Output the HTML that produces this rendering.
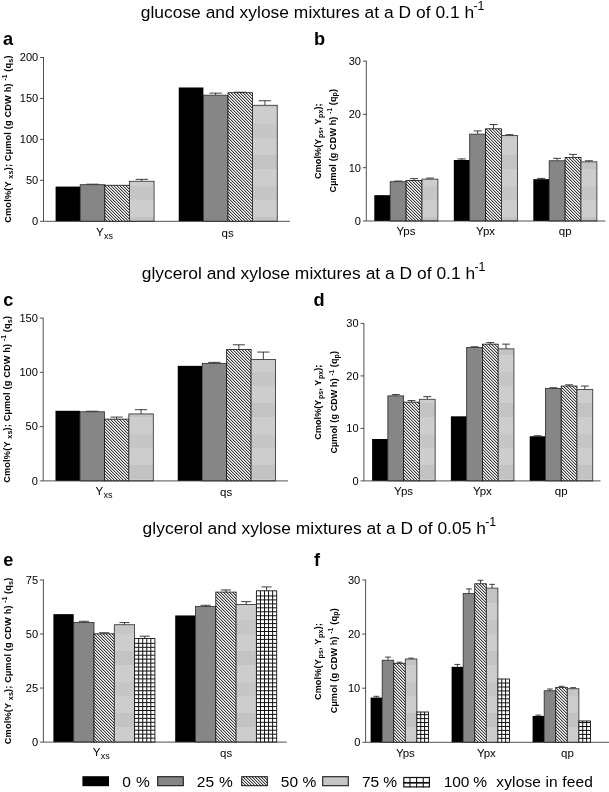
<!DOCTYPE html>
<html><head><meta charset="utf-8"><title>figure</title>
<style>html,body{margin:0;padding:0;background:#fff}svg{display:block;will-change:transform}text{font-family:"Liberation Sans",sans-serif;fill:#000}</style>
</head><body>
<svg width="609" height="792" viewBox="0 0 609 792">
<defs>
<pattern id="hatch" patternUnits="userSpaceOnUse" width="3" height="3" shape-rendering="crispEdges"><rect width="3" height="3" fill="#fff"/><rect x="0" y="0" width="1" height="1" fill="#3c3c3c"/><rect x="1" y="0" width="1" height="1" fill="#b8b8b8"/><rect x="1" y="1" width="1" height="1" fill="#3c3c3c"/><rect x="2" y="1" width="1" height="1" fill="#b8b8b8"/><rect x="2" y="2" width="1" height="1" fill="#3c3c3c"/><rect x="0" y="2" width="1" height="1" fill="#b8b8b8"/></pattern>
<pattern id="lt" patternUnits="userSpaceOnUse" width="40" height="62"><rect width="40" height="62" fill="#cdcdcd"/><rect y="0" width="40" height="14" fill="#c6c6c6"/><rect y="31" width="40" height="14" fill="#c3c3c3"/></pattern>
</defs>
<rect width="609" height="792" fill="#fff"/>
<text x="140.70" y="18.20" font-size="17.4" textLength="333.50" lengthAdjust="spacing">glucose and xylose mixtures at a D of 0.1 h</text>
<text x="473.60" y="9.90" font-size="12.4" textLength="10.9" lengthAdjust="spacing">-1</text>
<text x="141.70" y="279.00" font-size="17.4" textLength="333.50" lengthAdjust="spacing">glycerol and xylose mixtures at a D of 0.1 h</text>
<text x="474.60" y="270.70" font-size="12.4" textLength="10.9" lengthAdjust="spacing">-1</text>
<text x="142.60" y="534.40" font-size="17.4" textLength="343.30" lengthAdjust="spacing">glycerol and xylose mixtures at a D of 0.05 h</text>
<text x="485.30" y="526.10" font-size="12.4" textLength="10.9" lengthAdjust="spacing">-1</text>
<text x="3.0" y="44.7" font-size="18.2" font-weight="bold">a</text>
<text x="314.0" y="45.4" font-size="18.2" font-weight="bold">b</text>
<text x="3.2" y="306.1" font-size="18.2" font-weight="bold">c</text>
<text x="313.6" y="306.4" font-size="18.2" font-weight="bold">d</text>
<text x="3.2" y="565.8" font-size="18.2" font-weight="bold">e</text>
<text x="314.0" y="565.8" font-size="18.2" font-weight="bold">f</text>
<rect x="55.60" y="186.57" width="24.62" height="34.73" fill="#000"/>
<path d="M92.53,184.69V184.20M86.38,184.20H98.69" stroke="#1c1c1c" stroke-width="0.85" fill="none"/>
<rect x="80.22" y="184.69" width="24.62" height="36.61" fill="#868686" stroke="#2a2a2a" stroke-width="0.8"/>
<rect x="104.84" y="185.26" width="24.62" height="36.04" fill="url(#hatch)" stroke="#111" stroke-width="0.8"/>
<path d="M141.77,181.25V179.37M135.62,179.37H147.93" stroke="#1c1c1c" stroke-width="0.85" fill="none"/>
<rect x="129.46" y="181.25" width="24.62" height="40.05" fill="url(#lt)" stroke="#2a2a2a" stroke-width="0.8"/>
<rect x="178.75" y="87.48" width="24.62" height="133.82" fill="#000"/>
<path d="M215.68,95.17V93.13M209.53,93.13H221.84" stroke="#1c1c1c" stroke-width="0.85" fill="none"/>
<rect x="203.37" y="95.17" width="24.62" height="126.13" fill="#868686" stroke="#2a2a2a" stroke-width="0.8"/>
<path d="M240.30,92.72V92.23M234.15,92.23H246.46" stroke="#1c1c1c" stroke-width="0.85" fill="none"/>
<rect x="227.99" y="92.72" width="24.62" height="128.58" fill="url(#hatch)" stroke="#111" stroke-width="0.8"/>
<path d="M264.92,105.25V100.74M258.77,100.74H271.07" stroke="#1c1c1c" stroke-width="0.85" fill="none"/>
<rect x="252.61" y="105.25" width="24.62" height="116.05" fill="url(#lt)" stroke="#2a2a2a" stroke-width="0.8"/>
<path d="M43.50,57.10V221.30H290.00" stroke="#333" stroke-width="0.85" fill="none"/>
<path d="M40.10,221.30H43.50" stroke="#333" stroke-width="0.85" fill="none"/>
<text x="38.20" y="225.10" font-size="11.6" text-anchor="end" textLength="6.16" lengthAdjust="spacingAndGlyphs">0</text>
<path d="M40.10,180.35H43.50" stroke="#333" stroke-width="0.85" fill="none"/>
<text x="38.20" y="184.15" font-size="11.6" text-anchor="end" textLength="12.32" lengthAdjust="spacingAndGlyphs">50</text>
<path d="M40.10,139.40H43.50" stroke="#333" stroke-width="0.85" fill="none"/>
<text x="38.20" y="143.20" font-size="11.6" text-anchor="end" textLength="18.48" lengthAdjust="spacingAndGlyphs">100</text>
<path d="M40.10,98.45H43.50" stroke="#333" stroke-width="0.85" fill="none"/>
<text x="38.20" y="102.25" font-size="11.6" text-anchor="end" textLength="18.48" lengthAdjust="spacingAndGlyphs">150</text>
<path d="M40.10,57.50H43.50" stroke="#333" stroke-width="0.85" fill="none"/>
<text x="38.20" y="61.30" font-size="11.6" text-anchor="end" textLength="18.48" lengthAdjust="spacingAndGlyphs">200</text>
<text x="104.50" y="236.60" font-size="11.5" text-anchor="middle"><tspan dy="-0.8">Y</tspan><tspan font-size="9" dy="3.2" dx="0.3">xs</tspan></text>
<text x="227.60" y="236.60" font-size="11.5" text-anchor="middle">qs</text>
<rect x="55.50" y="410.79" width="24.45" height="70.11" fill="#000"/>
<path d="M92.17,411.76V411.22M86.06,411.22H98.29" stroke="#1c1c1c" stroke-width="0.85" fill="none"/>
<rect x="79.95" y="411.76" width="24.45" height="69.14" fill="#868686" stroke="#2a2a2a" stroke-width="0.8"/>
<path d="M116.62,419.14V417.08M110.51,417.08H122.74" stroke="#1c1c1c" stroke-width="0.85" fill="none"/>
<rect x="104.40" y="419.14" width="24.45" height="61.76" fill="url(#hatch)" stroke="#111" stroke-width="0.8"/>
<path d="M141.07,413.93V409.70M134.96,409.70H147.19" stroke="#1c1c1c" stroke-width="0.85" fill="none"/>
<rect x="128.85" y="413.93" width="24.45" height="66.97" fill="url(#lt)" stroke="#2a2a2a" stroke-width="0.8"/>
<rect x="177.75" y="365.85" width="24.45" height="115.05" fill="#000"/>
<path d="M214.42,363.36V362.38M208.31,362.38H220.54" stroke="#1c1c1c" stroke-width="0.85" fill="none"/>
<rect x="202.20" y="363.36" width="24.45" height="117.54" fill="#868686" stroke="#2a2a2a" stroke-width="0.8"/>
<path d="M238.88,349.57V344.80M232.76,344.80H244.99" stroke="#1c1c1c" stroke-width="0.85" fill="none"/>
<rect x="226.65" y="349.57" width="24.45" height="131.33" fill="url(#hatch)" stroke="#111" stroke-width="0.8"/>
<path d="M263.32,359.45V352.07M257.21,352.07H269.44" stroke="#1c1c1c" stroke-width="0.85" fill="none"/>
<rect x="251.10" y="359.45" width="24.45" height="121.45" fill="url(#lt)" stroke="#2a2a2a" stroke-width="0.8"/>
<path d="M43.20,317.70V480.90H287.90" stroke="#333" stroke-width="0.85" fill="none"/>
<path d="M39.80,480.90H43.20" stroke="#333" stroke-width="0.85" fill="none"/>
<text x="37.90" y="484.70" font-size="11.6" text-anchor="end" textLength="6.16" lengthAdjust="spacingAndGlyphs">0</text>
<path d="M39.80,426.63H43.20" stroke="#333" stroke-width="0.85" fill="none"/>
<text x="37.90" y="430.43" font-size="11.6" text-anchor="end" textLength="12.32" lengthAdjust="spacingAndGlyphs">50</text>
<path d="M39.80,372.37H43.20" stroke="#333" stroke-width="0.85" fill="none"/>
<text x="37.90" y="376.17" font-size="11.6" text-anchor="end" textLength="18.48" lengthAdjust="spacingAndGlyphs">100</text>
<path d="M39.80,318.10H43.20" stroke="#333" stroke-width="0.85" fill="none"/>
<text x="37.90" y="321.90" font-size="11.6" text-anchor="end" textLength="18.48" lengthAdjust="spacingAndGlyphs">150</text>
<text x="104.00" y="495.60" font-size="11.5" text-anchor="middle"><tspan dy="-0.8">Y</tspan><tspan font-size="9" dy="3.2" dx="0.3">xs</tspan></text>
<text x="226.20" y="495.60" font-size="11.5" text-anchor="middle">qs</text>
<rect x="53.40" y="614.15" width="20.30" height="127.95" fill="#000"/>
<path d="M83.85,622.58V621.28M78.78,621.28H88.93" stroke="#1c1c1c" stroke-width="0.85" fill="none"/>
<rect x="73.70" y="622.58" width="20.30" height="119.52" fill="#868686" stroke="#2a2a2a" stroke-width="0.8"/>
<path d="M104.15,633.82V632.74M99.08,632.74H109.23" stroke="#1c1c1c" stroke-width="0.85" fill="none"/>
<rect x="94.00" y="633.82" width="20.30" height="108.28" fill="url(#hatch)" stroke="#111" stroke-width="0.8"/>
<path d="M124.45,624.74V622.58M119.38,622.58H129.53" stroke="#1c1c1c" stroke-width="0.85" fill="none"/>
<rect x="114.30" y="624.74" width="20.30" height="117.36" fill="url(#lt)" stroke="#2a2a2a" stroke-width="0.8"/>
<path d="M144.75,638.57V636.19M139.68,636.19H149.82" stroke="#1c1c1c" stroke-width="0.85" fill="none"/>
<rect x="134.60" y="638.57" width="20.30" height="103.53" fill="#fff" stroke="#111" stroke-width="0.9"/>
<path d="M138.66,638.57V742.10M142.72,638.57V742.10M146.78,638.57V742.10M150.84,638.57V742.10M134.60,738.15H154.90M134.60,734.20H154.90M134.60,730.25H154.90M134.60,726.30H154.90M134.60,722.35H154.90M134.60,718.40H154.90M134.60,714.45H154.90M134.60,710.50H154.90M134.60,706.55H154.90M134.60,702.60H154.90M134.60,698.65H154.90M134.60,694.70H154.90M134.60,690.75H154.90M134.60,686.80H154.90M134.60,682.85H154.90M134.60,678.90H154.90M134.60,674.95H154.90M134.60,671.00H154.90M134.60,667.05H154.90M134.60,663.10H154.90M134.60,659.15H154.90M134.60,655.20H154.90M134.60,651.25H154.90M134.60,647.30H154.90M134.60,643.35H154.90" stroke="#111" stroke-width="1.0" fill="none"/>
<rect x="175.20" y="615.45" width="20.30" height="126.65" fill="#000"/>
<path d="M205.65,606.58V605.29M200.58,605.29H210.72" stroke="#1c1c1c" stroke-width="0.85" fill="none"/>
<rect x="195.50" y="606.58" width="20.30" height="135.52" fill="#868686" stroke="#2a2a2a" stroke-width="0.8"/>
<path d="M225.95,592.10V589.94M220.88,589.94H231.02" stroke="#1c1c1c" stroke-width="0.85" fill="none"/>
<rect x="215.80" y="592.10" width="20.30" height="150.00" fill="url(#hatch)" stroke="#111" stroke-width="0.8"/>
<path d="M246.25,604.42V601.61M241.18,601.61H251.32" stroke="#1c1c1c" stroke-width="0.85" fill="none"/>
<rect x="236.10" y="604.42" width="20.30" height="137.68" fill="url(#lt)" stroke="#2a2a2a" stroke-width="0.8"/>
<path d="M266.55,590.81V586.92M261.47,586.92H271.62" stroke="#1c1c1c" stroke-width="0.85" fill="none"/>
<rect x="256.40" y="590.81" width="20.30" height="151.29" fill="#fff" stroke="#111" stroke-width="0.9"/>
<path d="M260.46,590.81V742.10M264.52,590.81V742.10M268.58,590.81V742.10M272.64,590.81V742.10M256.40,738.15H276.70M256.40,734.20H276.70M256.40,730.25H276.70M256.40,726.30H276.70M256.40,722.35H276.70M256.40,718.40H276.70M256.40,714.45H276.70M256.40,710.50H276.70M256.40,706.55H276.70M256.40,702.60H276.70M256.40,698.65H276.70M256.40,694.70H276.70M256.40,690.75H276.70M256.40,686.80H276.70M256.40,682.85H276.70M256.40,678.90H276.70M256.40,674.95H276.70M256.40,671.00H276.70M256.40,667.05H276.70M256.40,663.10H276.70M256.40,659.15H276.70M256.40,655.20H276.70M256.40,651.25H276.70M256.40,647.30H276.70M256.40,643.35H276.70M256.40,639.40H276.70M256.40,635.45H276.70M256.40,631.50H276.70M256.40,627.55H276.70M256.40,623.60H276.70M256.40,619.65H276.70M256.40,615.70H276.70M256.40,611.75H276.70M256.40,607.80H276.70M256.40,603.85H276.70M256.40,599.90H276.70M256.40,595.95H276.70" stroke="#111" stroke-width="1.0" fill="none"/>
<path d="M43.40,579.60V742.10H286.80" stroke="#333" stroke-width="0.85" fill="none"/>
<path d="M40.00,742.10H43.40" stroke="#333" stroke-width="0.85" fill="none"/>
<text x="38.10" y="745.90" font-size="11.6" text-anchor="end" textLength="6.16" lengthAdjust="spacingAndGlyphs">0</text>
<path d="M40.00,688.07H43.40" stroke="#333" stroke-width="0.85" fill="none"/>
<text x="38.10" y="691.87" font-size="11.6" text-anchor="end" textLength="12.32" lengthAdjust="spacingAndGlyphs">25</text>
<path d="M40.00,634.03H43.40" stroke="#333" stroke-width="0.85" fill="none"/>
<text x="38.10" y="637.83" font-size="11.6" text-anchor="end" textLength="12.32" lengthAdjust="spacingAndGlyphs">50</text>
<path d="M40.00,580.00H43.40" stroke="#333" stroke-width="0.85" fill="none"/>
<text x="38.10" y="583.80" font-size="11.6" text-anchor="end" textLength="12.32" lengthAdjust="spacingAndGlyphs">75</text>
<text x="101.30" y="756.80" font-size="11.5" text-anchor="middle"><tspan dy="-0.8">Y</tspan><tspan font-size="9" dy="3.2" dx="0.3">xs</tspan></text>
<text x="226.20" y="756.80" font-size="11.5" text-anchor="middle">qs</text>
<rect x="374.30" y="195.15" width="15.90" height="25.85" fill="#000"/>
<path d="M398.15,181.72V181.03M394.17,181.03H402.12" stroke="#1c1c1c" stroke-width="0.85" fill="none"/>
<rect x="390.20" y="181.72" width="15.90" height="39.28" fill="#868686" stroke="#2a2a2a" stroke-width="0.8"/>
<path d="M414.05,180.49V178.63M410.07,178.63H418.03" stroke="#1c1c1c" stroke-width="0.85" fill="none"/>
<rect x="406.10" y="180.49" width="15.90" height="40.51" fill="url(#hatch)" stroke="#111" stroke-width="0.8"/>
<path d="M429.95,179.16V178.09M425.97,178.09H433.93" stroke="#1c1c1c" stroke-width="0.85" fill="none"/>
<rect x="422.00" y="179.16" width="15.90" height="41.84" fill="url(#lt)" stroke="#2a2a2a" stroke-width="0.8"/>
<path d="M461.75,159.97V158.91M457.77,158.91H465.73" stroke="#1c1c1c" stroke-width="0.85" fill="none"/>
<rect x="453.80" y="159.97" width="15.90" height="61.03" fill="#000"/>
<path d="M477.65,134.12V130.92M473.67,130.92H481.62" stroke="#1c1c1c" stroke-width="0.85" fill="none"/>
<rect x="469.70" y="134.12" width="15.90" height="86.88" fill="#868686" stroke="#2a2a2a" stroke-width="0.8"/>
<path d="M493.55,128.79V124.53M489.57,124.53H497.53" stroke="#1c1c1c" stroke-width="0.85" fill="none"/>
<rect x="485.60" y="128.79" width="15.90" height="92.21" fill="url(#hatch)" stroke="#111" stroke-width="0.8"/>
<path d="M509.45,135.45V134.65M505.47,134.65H513.42" stroke="#1c1c1c" stroke-width="0.85" fill="none"/>
<rect x="501.50" y="135.45" width="15.90" height="85.55" fill="url(#lt)" stroke="#2a2a2a" stroke-width="0.8"/>
<path d="M541.25,179.16V178.36M537.27,178.36H545.23" stroke="#1c1c1c" stroke-width="0.85" fill="none"/>
<rect x="533.30" y="179.16" width="15.90" height="41.84" fill="#000"/>
<path d="M557.15,160.77V158.37M553.17,158.37H561.12" stroke="#1c1c1c" stroke-width="0.85" fill="none"/>
<rect x="549.20" y="160.77" width="15.90" height="60.23" fill="#868686" stroke="#2a2a2a" stroke-width="0.8"/>
<path d="M573.05,157.57V154.38M569.07,154.38H577.02" stroke="#1c1c1c" stroke-width="0.85" fill="none"/>
<rect x="565.10" y="157.57" width="15.90" height="63.43" fill="url(#hatch)" stroke="#111" stroke-width="0.8"/>
<path d="M588.95,161.84V160.77M584.98,160.77H592.93" stroke="#1c1c1c" stroke-width="0.85" fill="none"/>
<rect x="581.00" y="161.84" width="15.90" height="59.16" fill="url(#lt)" stroke="#2a2a2a" stroke-width="0.8"/>
<path d="M366.30,60.70V221.00H605.40" stroke="#333" stroke-width="0.85" fill="none"/>
<path d="M362.90,221.00H366.30" stroke="#333" stroke-width="0.85" fill="none"/>
<text x="361.00" y="224.80" font-size="11.6" text-anchor="end" textLength="6.16" lengthAdjust="spacingAndGlyphs">0</text>
<path d="M362.90,167.70H366.30" stroke="#333" stroke-width="0.85" fill="none"/>
<text x="361.00" y="171.50" font-size="11.6" text-anchor="end" textLength="12.32" lengthAdjust="spacingAndGlyphs">10</text>
<path d="M362.90,114.40H366.30" stroke="#333" stroke-width="0.85" fill="none"/>
<text x="361.00" y="118.20" font-size="11.6" text-anchor="end" textLength="12.32" lengthAdjust="spacingAndGlyphs">20</text>
<path d="M362.90,61.10H366.30" stroke="#333" stroke-width="0.85" fill="none"/>
<text x="361.00" y="64.90" font-size="11.6" text-anchor="end" textLength="12.32" lengthAdjust="spacingAndGlyphs">30</text>
<text x="406.00" y="235.00" font-size="11.5" text-anchor="middle">Yps</text>
<text x="485.60" y="235.00" font-size="11.5" text-anchor="middle">Ypx</text>
<text x="565.20" y="235.00" font-size="11.5" text-anchor="middle">qp</text>
<rect x="372.10" y="439.00" width="15.76" height="41.89" fill="#000"/>
<path d="M395.74,395.85V394.54M391.80,394.54H399.68" stroke="#1c1c1c" stroke-width="0.85" fill="none"/>
<rect x="387.86" y="395.85" width="15.76" height="85.05" fill="#868686" stroke="#2a2a2a" stroke-width="0.8"/>
<path d="M411.50,402.15V400.57M407.56,400.57H415.44" stroke="#1c1c1c" stroke-width="0.85" fill="none"/>
<rect x="403.62" y="402.15" width="15.76" height="78.75" fill="url(#hatch)" stroke="#111" stroke-width="0.8"/>
<path d="M427.26,399.26V396.64M423.32,396.64H431.20" stroke="#1c1c1c" stroke-width="0.85" fill="none"/>
<rect x="419.38" y="399.26" width="15.76" height="81.64" fill="url(#lt)" stroke="#2a2a2a" stroke-width="0.8"/>
<rect x="450.90" y="416.32" width="15.76" height="64.57" fill="#000"/>
<path d="M474.54,347.55V346.76M470.60,346.76H478.48" stroke="#1c1c1c" stroke-width="0.85" fill="none"/>
<rect x="466.66" y="347.55" width="15.76" height="133.35" fill="#868686" stroke="#2a2a2a" stroke-width="0.8"/>
<path d="M490.30,344.14V342.56M486.36,342.56H494.24" stroke="#1c1c1c" stroke-width="0.85" fill="none"/>
<rect x="482.42" y="344.14" width="15.76" height="136.76" fill="url(#hatch)" stroke="#111" stroke-width="0.8"/>
<path d="M506.06,348.86V344.14M502.12,344.14H510.00" stroke="#1c1c1c" stroke-width="0.85" fill="none"/>
<rect x="498.18" y="348.86" width="15.76" height="132.04" fill="url(#lt)" stroke="#2a2a2a" stroke-width="0.8"/>
<path d="M537.58,436.27V435.75M533.64,435.75H541.52" stroke="#1c1c1c" stroke-width="0.85" fill="none"/>
<rect x="529.70" y="436.27" width="15.76" height="44.62" fill="#000"/>
<path d="M553.34,388.50V387.71M549.40,387.71H557.28" stroke="#1c1c1c" stroke-width="0.85" fill="none"/>
<rect x="545.46" y="388.50" width="15.76" height="92.40" fill="#868686" stroke="#2a2a2a" stroke-width="0.8"/>
<path d="M569.10,386.03V384.82M565.16,384.82H573.04" stroke="#1c1c1c" stroke-width="0.85" fill="none"/>
<rect x="561.22" y="386.03" width="15.76" height="94.87" fill="url(#hatch)" stroke="#111" stroke-width="0.8"/>
<path d="M584.86,389.55V386.03M580.92,386.03H588.80" stroke="#1c1c1c" stroke-width="0.85" fill="none"/>
<rect x="576.98" y="389.55" width="15.76" height="91.35" fill="url(#lt)" stroke="#2a2a2a" stroke-width="0.8"/>
<path d="M363.90,323.00V480.90H600.50" stroke="#333" stroke-width="0.85" fill="none"/>
<path d="M360.50,480.90H363.90" stroke="#333" stroke-width="0.85" fill="none"/>
<text x="358.60" y="484.70" font-size="11.6" text-anchor="end" textLength="6.16" lengthAdjust="spacingAndGlyphs">0</text>
<path d="M360.50,428.40H363.90" stroke="#333" stroke-width="0.85" fill="none"/>
<text x="358.60" y="432.20" font-size="11.6" text-anchor="end" textLength="12.32" lengthAdjust="spacingAndGlyphs">10</text>
<path d="M360.50,375.90H363.90" stroke="#333" stroke-width="0.85" fill="none"/>
<text x="358.60" y="379.70" font-size="11.6" text-anchor="end" textLength="12.32" lengthAdjust="spacingAndGlyphs">20</text>
<path d="M360.50,323.40H363.90" stroke="#333" stroke-width="0.85" fill="none"/>
<text x="358.60" y="327.20" font-size="11.6" text-anchor="end" textLength="12.32" lengthAdjust="spacingAndGlyphs">30</text>
<text x="403.60" y="495.10" font-size="11.5" text-anchor="middle">Yps</text>
<text x="482.40" y="495.10" font-size="11.5" text-anchor="middle">Ypx</text>
<text x="561.20" y="495.10" font-size="11.5" text-anchor="middle">qp</text>
<path d="M376.39,697.56V696.31M373.49,696.31H379.28" stroke="#1c1c1c" stroke-width="0.85" fill="none"/>
<rect x="370.60" y="697.56" width="11.57" height="44.74" fill="#000"/>
<path d="M387.96,660.23V657.09M385.06,657.09H390.85" stroke="#1c1c1c" stroke-width="0.85" fill="none"/>
<rect x="382.17" y="660.23" width="11.57" height="82.07" fill="#868686" stroke="#2a2a2a" stroke-width="0.8"/>
<path d="M399.53,663.31V662.23M396.63,662.23H402.42" stroke="#1c1c1c" stroke-width="0.85" fill="none"/>
<rect x="393.74" y="663.31" width="11.57" height="78.99" fill="url(#hatch)" stroke="#111" stroke-width="0.8"/>
<path d="M411.10,658.99V658.17M408.20,658.17H413.99" stroke="#1c1c1c" stroke-width="0.85" fill="none"/>
<rect x="405.31" y="658.99" width="11.57" height="83.31" fill="url(#lt)" stroke="#2a2a2a" stroke-width="0.8"/>
<rect x="416.88" y="712.00" width="11.57" height="30.30" fill="#fff" stroke="#111" stroke-width="0.9"/>
<path d="M420.74,712.00V742.30M424.59,712.00V742.30M416.88,738.35H428.45M416.88,734.40H428.45M416.88,730.45H428.45M416.88,726.50H428.45M416.88,722.55H428.45M416.88,718.60H428.45M416.88,714.65H428.45" stroke="#111" stroke-width="1.0" fill="none"/>
<path d="M457.39,666.83V664.40M454.49,664.40H460.28" stroke="#1c1c1c" stroke-width="0.85" fill="none"/>
<rect x="451.60" y="666.83" width="11.57" height="75.47" fill="#000"/>
<path d="M468.96,593.52V588.93M466.06,588.93H471.85" stroke="#1c1c1c" stroke-width="0.85" fill="none"/>
<rect x="463.17" y="593.52" width="11.57" height="148.77" fill="#868686" stroke="#2a2a2a" stroke-width="0.8"/>
<path d="M480.53,583.79V580.27M477.63,580.27H483.42" stroke="#1c1c1c" stroke-width="0.85" fill="none"/>
<rect x="474.74" y="583.79" width="11.57" height="158.51" fill="url(#hatch)" stroke="#111" stroke-width="0.8"/>
<path d="M492.10,588.12V584.33M489.20,584.33H494.99" stroke="#1c1c1c" stroke-width="0.85" fill="none"/>
<rect x="486.31" y="588.12" width="11.57" height="154.18" fill="url(#lt)" stroke="#2a2a2a" stroke-width="0.8"/>
<rect x="497.88" y="679.00" width="11.57" height="63.30" fill="#fff" stroke="#111" stroke-width="0.9"/>
<path d="M501.74,679.00V742.30M505.59,679.00V742.30M497.88,738.35H509.45M497.88,734.40H509.45M497.88,730.45H509.45M497.88,726.50H509.45M497.88,722.55H509.45M497.88,718.60H509.45M497.88,714.65H509.45M497.88,710.70H509.45M497.88,706.75H509.45M497.88,702.80H509.45M497.88,698.85H509.45M497.88,694.90H509.45M497.88,690.95H509.45M497.88,687.00H509.45M497.88,683.05H509.45" stroke="#111" stroke-width="1.0" fill="none"/>
<path d="M538.38,715.95V715.14M535.49,715.14H541.28" stroke="#1c1c1c" stroke-width="0.85" fill="none"/>
<rect x="532.60" y="715.95" width="11.57" height="26.35" fill="#000"/>
<path d="M549.96,690.74V689.01M547.06,689.01H552.85" stroke="#1c1c1c" stroke-width="0.85" fill="none"/>
<rect x="544.17" y="690.74" width="11.57" height="51.56" fill="#868686" stroke="#2a2a2a" stroke-width="0.8"/>
<path d="M561.52,687.33V686.31M558.63,686.31H564.42" stroke="#1c1c1c" stroke-width="0.85" fill="none"/>
<rect x="555.74" y="687.33" width="11.57" height="54.97" fill="url(#hatch)" stroke="#111" stroke-width="0.8"/>
<path d="M573.10,688.74V687.66M570.20,687.66H575.99" stroke="#1c1c1c" stroke-width="0.85" fill="none"/>
<rect x="567.31" y="688.74" width="11.57" height="53.56" fill="url(#lt)" stroke="#2a2a2a" stroke-width="0.8"/>
<rect x="578.88" y="720.98" width="11.57" height="21.32" fill="#fff" stroke="#111" stroke-width="0.9"/>
<path d="M582.74,720.98V742.30M586.59,720.98V742.30M578.88,738.35H590.45M578.88,734.40H590.45M578.88,730.45H590.45M578.88,726.50H590.45M578.88,722.55H590.45" stroke="#111" stroke-width="1.0" fill="none"/>
<path d="M365.60,579.60V742.30H609.00" stroke="#333" stroke-width="0.85" fill="none"/>
<path d="M362.20,742.30H365.60" stroke="#333" stroke-width="0.85" fill="none"/>
<text x="360.30" y="746.10" font-size="11.6" text-anchor="end" textLength="6.16" lengthAdjust="spacingAndGlyphs">0</text>
<path d="M362.20,688.20H365.60" stroke="#333" stroke-width="0.85" fill="none"/>
<text x="360.30" y="692.00" font-size="11.6" text-anchor="end" textLength="12.32" lengthAdjust="spacingAndGlyphs">10</text>
<path d="M362.20,634.10H365.60" stroke="#333" stroke-width="0.85" fill="none"/>
<text x="360.30" y="637.90" font-size="11.6" text-anchor="end" textLength="12.32" lengthAdjust="spacingAndGlyphs">20</text>
<path d="M362.20,580.00H365.60" stroke="#333" stroke-width="0.85" fill="none"/>
<text x="360.30" y="583.80" font-size="11.6" text-anchor="end" textLength="12.32" lengthAdjust="spacingAndGlyphs">30</text>
<text x="405.40" y="757.00" font-size="11.5" text-anchor="middle">Yps</text>
<text x="486.40" y="757.00" font-size="11.5" text-anchor="middle">Ypx</text>
<text x="567.40" y="757.00" font-size="11.5" text-anchor="middle">qp</text>
<text transform="translate(10.7,139.1) rotate(-90)" font-size="9.2" font-weight="bold" text-anchor="middle" textLength="167.4" lengthAdjust="spacing">Cmol%(Y <tspan font-size="7.2" dy="1.8">xs</tspan><tspan dy="-1.8">); Cµmol (g CDW h) </tspan><tspan font-size="6.5" dy="-3.6">-1</tspan><tspan dy="3.6"> (q</tspan><tspan font-size="7.2" dy="1.8">s</tspan><tspan dy="-1.8">)</tspan></text>
<text transform="translate(9.9,399.35) rotate(-90)" font-size="9.2" font-weight="bold" text-anchor="middle" textLength="166.9" lengthAdjust="spacing">Cmol%(Y <tspan font-size="7.2" dy="1.8">xs</tspan><tspan dy="-1.8">); Cµmol (g CDW h) </tspan><tspan font-size="6.5" dy="-3.6">-1</tspan><tspan dy="3.6"> (q</tspan><tspan font-size="7.2" dy="1.8">s</tspan><tspan dy="-1.8">)</tspan></text>
<text transform="translate(10.7,660.95) rotate(-90)" font-size="9.2" font-weight="bold" text-anchor="middle" textLength="166.5" lengthAdjust="spacing">Cmol%(Y <tspan font-size="7.2" dy="1.8">xs</tspan><tspan dy="-1.8">); Cµmol (g CDW h) </tspan><tspan font-size="6.5" dy="-3.6">-1</tspan><tspan dy="3.6"> (q</tspan><tspan font-size="7.2" dy="1.8">s</tspan><tspan dy="-1.8">)</tspan></text>
<text transform="translate(321.1,141.15) rotate(-90)" font-size="9" font-weight="bold" text-anchor="middle" textLength="75.5" lengthAdjust="spacing">Cmol%(Y<tspan font-size="7.0" dy="1.8" dx="0.6">ps</tspan><tspan dy="-1.8">, Y</tspan><tspan font-size="7.0" dy="1.8" dx="0.6">px</tspan><tspan dy="-1.8">);</tspan></text>
<text transform="translate(335.6,140.75) rotate(-90)" font-size="9" font-weight="bold" text-anchor="middle" textLength="103.5" lengthAdjust="spacing">Cµmol (g CDW h) <tspan font-size="6.3" dy="-3.6">-1</tspan><tspan dy="3.6"> (q</tspan><tspan font-size="7.0" dy="1.8">p</tspan><tspan dy="-1.8">)</tspan></text>
<text transform="translate(321.3,402.15) rotate(-90)" font-size="9" font-weight="bold" text-anchor="middle" textLength="75.0" lengthAdjust="spacing">Cmol%(Y<tspan font-size="7.0" dy="1.8" dx="0.6">ps</tspan><tspan dy="-1.8">, Y</tspan><tspan font-size="7.0" dy="1.8" dx="0.6">px</tspan><tspan dy="-1.8">);</tspan></text>
<text transform="translate(337.3,402.3) rotate(-90)" font-size="9" font-weight="bold" text-anchor="middle" textLength="102.5" lengthAdjust="spacing">Cµmol (g CDW h) <tspan font-size="6.3" dy="-3.6">-1</tspan><tspan dy="3.6"> (q</tspan><tspan font-size="7.0" dy="1.8">p</tspan><tspan dy="-1.8">)</tspan></text>
<text transform="translate(321.2,661.6) rotate(-90)" font-size="9.1" font-weight="bold" text-anchor="middle" textLength="77.0" lengthAdjust="spacing">Cmol%(Y<tspan font-size="7.1" dy="1.8" dx="0.6">ps</tspan><tspan dy="-1.8">, Y</tspan><tspan font-size="7.1" dy="1.8" dx="0.6">px</tspan><tspan dy="-1.8">);</tspan></text>
<text transform="translate(336.6,660.8) rotate(-90)" font-size="9.1" font-weight="bold" text-anchor="middle" textLength="105.0" lengthAdjust="spacing">Cµmol (g CDW h) <tspan font-size="6.4" dy="-3.6">-1</tspan><tspan dy="3.6"> (q</tspan><tspan font-size="7.1" dy="1.8">p</tspan><tspan dy="-1.8">)</tspan></text>
<rect x="82.4" y="776.2" width="26.6" height="10" fill="#000"/>
<rect x="157.7" y="776.7" width="25.6" height="9" fill="#868686" stroke="#1a1a1a" stroke-width="1.1"/>
<rect x="241.7" y="776.7" width="25.6" height="9" fill="url(#hatch)" stroke="#111" stroke-width="1"/>
<rect x="322.7" y="776.7" width="25.6" height="9" fill="#c6c6c6" stroke="#1a1a1a" stroke-width="1.1"/>
<rect x="403.8" y="777.5" width="25.6" height="9.4" fill="#fff" stroke="#111" stroke-width="1.2"/>
<path d="M409.95,777.0V787.4000000000001M416.60,777.0V787.4000000000001M423.25,777.0V787.4000000000001" stroke="#111" stroke-width="1.1" fill="none"/>
<path d="M403.3,782.8000000000001H429.90000000000003" stroke="#111" stroke-width="1.7" fill="none"/>
<text x="122.3" y="787.2" font-size="15.5" textLength="27.6" lengthAdjust="spacing" xml:space="preserve">0 %</text>
<text x="196.8" y="787.2" font-size="15.5" textLength="35.9" lengthAdjust="spacing" xml:space="preserve">25 %</text>
<text x="280.8" y="787.2" font-size="15.5" textLength="35.6" lengthAdjust="spacing" xml:space="preserve">50 %</text>
<text x="362.1" y="787.2" font-size="15.5" textLength="35.0" lengthAdjust="spacing" xml:space="preserve">75 %</text>
<text x="443.8" y="787.2" font-size="15.5" textLength="43.3" lengthAdjust="spacing" xml:space="preserve">100 %</text>
<text x="496.3" y="787.2" font-size="15.5" textLength="96.5" lengthAdjust="spacing" xml:space="preserve">xylose in feed</text>
</svg></body></html>
